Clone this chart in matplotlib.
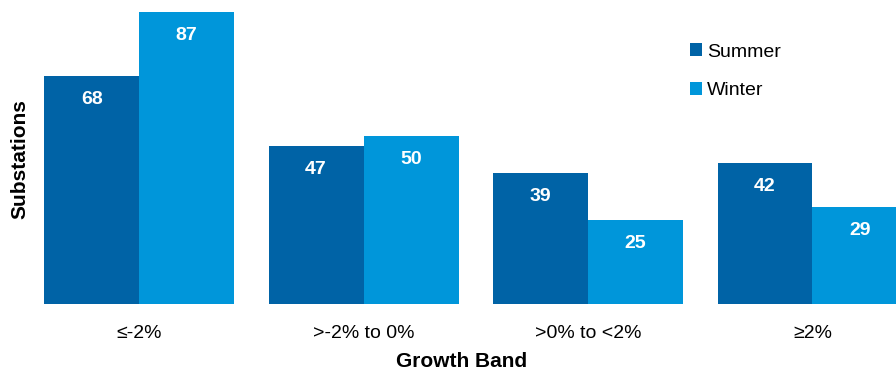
import numpy as np
import matplotlib.pyplot as plt

plt.rcParams['font.family'] = ['Liberation Sans', 'DejaVu Sans']

bands = ['≤-2%', '>-2% to 0%', '>0% to <2%', '≥2%']
summer = [68, 47, 39, 42]
winter = [87, 50, 25, 29]

summer_color = '#0063a6'
winter_color = '#0096da'

fig = plt.figure(figsize=(8.96, 3.71), dpi=100)
ax = fig.add_axes([0.030, 0.1806, 0.970, 0.8194])

x = np.arange(len(bands))
w = 0.423
b1 = ax.bar(x - w / 2, summer, w, color=summer_color, label='Summer')
b2 = ax.bar(x + w / 2, winter, w, color=winter_color, label='Winter')

# value labels inside the bars, near the top
for bars, vals in ((b1, summer), (b2, winter)):
    for rect, v in zip(bars, vals):
        ax.annotate(str(v), (rect.get_x() + rect.get_width() / 2, v),
                    xytext=(0, -17), textcoords='offset points',
                    ha='center', va='center', color='white',
                    fontsize=14, fontweight='bold')

ax.set_xlim(-0.5, 3.372)
ax.set_ylim(0, 90.5)

for s in ax.spines.values():
    s.set_visible(False)
ax.set_yticks([])
ax.set_xticks(x)
ax.set_xticklabels(bands, fontsize=14)
ax.tick_params(axis='x', length=0, pad=15)

ax.set_xlabel('Growth Band', fontsize=15, fontweight='bold', labelpad=7)
fig.text(0.0225, 0.57, 'Substations', rotation=90, fontsize=15,
         fontweight='bold', ha='center', va='center')

ax.legend(loc='upper left', bbox_to_anchor=(0.7515, 0.889), frameon=False,
          fontsize=14, handlelength=0.62, handleheight=0.62,
          handletextpad=0.25, labelspacing=1.1, borderpad=0)

fig.savefig('out.png', dpi=100)
